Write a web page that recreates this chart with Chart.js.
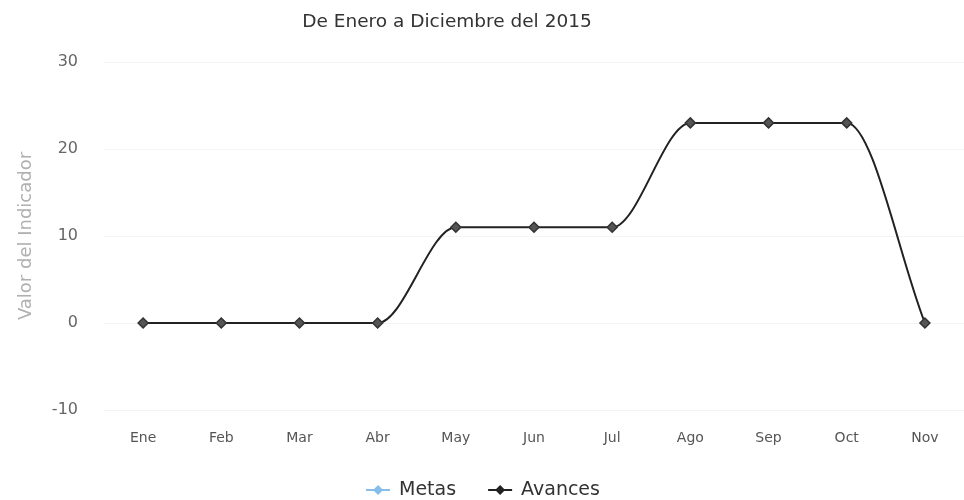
<!DOCTYPE html>
<html>
<head>
<meta charset="utf-8">
<script src="https://cdn.jsdelivr.net/npm/chart.js@4"></script>
<style>
  body { margin: 0; background: #fff; }
  #wrap { width: 964px; height: 500px; }
</style>
</head>
<body>
<div id="wrap"><canvas id="chart" width="964" height="500"></canvas></div>
<script>
// Datos
const meses = ['Ene', 'Feb', 'Mar', 'Abr', 'May', 'Jun', 'Jul', 'Ago', 'Sep', 'Oct', 'Nov'];
const metas = [null, null, null, null, null, null, null, null, null, null, null];
const avances = [0, 0, 0, 0, 11, 11, 11, 23, 23, 23, 0];
const yTicks = [-10, 0, 10, 20, 30];
const titulo = 'De Enero a Diciembre del 2015';

const FONT = '"DejaVu Sans", Verdana, sans-serif';

// Titulo y leyenda dibujados a mano (posiciones como en la imagen)
const extrasPlugin = {
    id: 'tituloLeyenda',
    afterDraw(chart) {
        const ctx = chart.ctx;
        ctx.save();
        ctx.font = '18.5px ' + FONT;
        ctx.fillStyle = '#333';
        ctx.textAlign = 'center';
        ctx.textBaseline = 'middle';
        ctx.fillText(titulo, 447, 22);

        // leyenda: linea + rombo + texto
        ctx.font = '19px ' + FONT;
        ctx.textAlign = 'left';
        const sets = chart.data.datasets;
        const iconW = 24, gapTxt = 9, gapItem = 32;
        const widths = sets.map(d => ctx.measureText(d.label).width);
        const total = widths.reduce((a, w) => a + iconW + gapTxt + w, 0) + gapItem * (sets.length - 1);
        let x = 483 - total / 2;
        const y = 490;
        sets.forEach((d, i) => {
            ctx.strokeStyle = d.borderColor;
            ctx.lineWidth = 2;
            ctx.beginPath();
            ctx.moveTo(x, y); ctx.lineTo(x + iconW, y);
            ctx.stroke();
            ctx.fillStyle = d.borderColor;
            const cx = x + iconW / 2;
            ctx.beginPath();
            ctx.moveTo(cx, y - 5); ctx.lineTo(cx + 5, y); ctx.lineTo(cx, y + 5); ctx.lineTo(cx - 5, y);
            ctx.closePath();
            ctx.fill();
            ctx.fillStyle = '#333';
            ctx.fillText(d.label, x + iconW + gapTxt, y);
            x += iconW + gapTxt + widths[i] + gapItem;
        });
        ctx.restore();
    }
};

const ctx = document.getElementById('chart').getContext('2d');
new Chart(ctx, {
    type: 'line',
    data: {
        labels: meses,
        datasets: [
            {
                label: 'Metas',
                data: metas,
                borderColor: '#86bde9',
                backgroundColor: '#86bde9',
                pointStyle: 'rectRot',
                pointRadius: 5
            },
            {
                label: 'Avances',
                data: avances,
                borderColor: '#222',
                backgroundColor: '#444',
                borderWidth: 2,
                pointStyle: 'rectRot',
                pointRadius: 5,
                pointBorderColor: '#333',
                pointBackgroundColor: '#555',
                pointBorderWidth: 1.5,
                cubicInterpolationMode: 'monotone'
            }
        ]
    },
    options: {
        responsive: false,
        animation: false,
        layout: { autoPadding: false, padding: { top: 62, right: 0, left: 0, bottom: 50 } },
        plugins: {
            title: { display: false },
            tooltip: { enabled: false },
            legend: { display: false }
        },
        scales: {
            x: {
                offset: true,
                afterFit(scale) { scale.height = 40; },
                grid: { display: false, drawTicks: false },
                border: { display: true, color: '#f3f3f3' },
                ticks: {
                    color: '#555',
                    padding: 20,
                    font: { family: FONT, size: 14 }
                }
            },
            y: {
                min: -10,
                max: 30,
                afterFit(scale) { scale.width = 104; },
                afterBuildTicks(scale) { scale.ticks = yTicks.map(v => ({ value: v })); },
                grid: { color: '#f4f4f4', drawTicks: false },
                border: { display: false },
                ticks: {
                    color: '#666',
                    padding: 26,
                    font: { family: FONT, size: 16 }
                },
                title: {
                    display: true,
                    text: 'Valor del Indicador',
                    color: '#b0b0b0',
                    padding: { top: 16, bottom: 0 },
                    font: { family: FONT, size: 18 }
                }
            }
        }
    },
    plugins: [extrasPlugin]
});
</script>
</body>
</html>
